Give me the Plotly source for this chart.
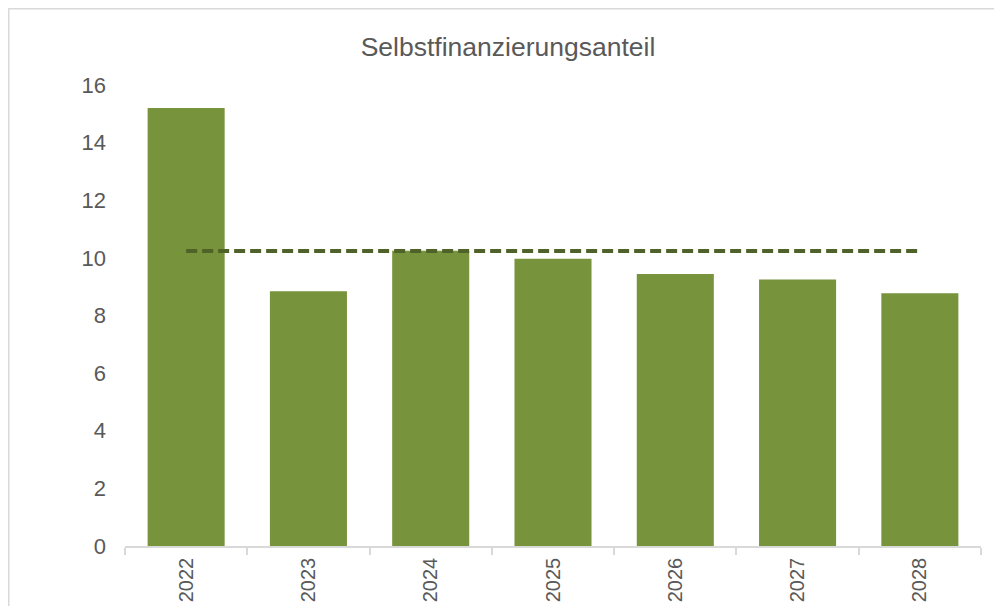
import plotly.graph_objects as go

years = ["2022", "2023", "2024", "2025", "2026", "2027", "2028"]
shares = [15.2, 8.84, 10.25, 9.97, 9.44, 9.25, 8.77]
average = [10.24] * len(years)
y_ticks = [0, 2, 4, 6, 8, 10, 12, 14, 16]

FONT = "Liberation Sans Narrow, Arial Narrow, Liberation Sans, Arial, sans-serif"
GREY_TXT = "#595959"
AXIS_GREY = "#d9d9d9"

fig = go.Figure()
fig.add_trace(go.Bar(x=years, y=shares, marker=dict(color="#77933C", line=dict(width=0)),
                     showlegend=False))
fig.add_trace(go.Scatter(x=years, y=average, mode="lines",
                         line=dict(color="#4F6228", width=4, dash="11px,5px"),
                         showlegend=False))

# the page body adds an 8px offset, margins compensate for it
W, H = 1002, 606
L, T = 117, 77
pw, ph = 856, 461
R, B = W - L - pw, H - T - ph

fig.update_layout(
    width=W, height=H,
    margin=dict(l=L, r=R, t=T, b=B, autoexpand=False),
    paper_bgcolor="white", plot_bgcolor="white",
    bargap=0.37,
    font=dict(family=FONT, color=GREY_TXT, size=22),
    title=dict(text="Selbstfinanzierungsanteil", x=0.499, xref="container", xanchor="center",
               y=1 - 39 / H, yref="container", yanchor="middle",
               font=dict(family=FONT, size=26.5, color=GREY_TXT)),
    xaxis=dict(type="category", showline=True, linecolor=AXIS_GREY, linewidth=1.5,
               ticks="outside", tickson="boundaries", ticklen=7, tickcolor=AXIS_GREY,
               tickwidth=1.5, tickangle=-90, showgrid=False, zeroline=False, automargin=False,
               tickfont=dict(family=FONT, size=20, color=GREY_TXT), ticklabelstandoff=2),
    yaxis=dict(range=[0, 16], tickvals=y_ticks, showgrid=False, zeroline=False,
               showline=False, ticks="", ticklabelstandoff=18, automargin=False,
               tickfont=dict(family=FONT, size=22, color=GREY_TXT)),
    shapes=[dict(type="rect", xref="paper", yref="paper",
                 x0=(0.75 - L) / pw, x1=(W + 20 - L) / pw,
                 y0=-(B + 20) / ph, y1=1 + (T - 0.75) / ph,
                 line=dict(color=AXIS_GREY, width=1.5), fillcolor="rgba(0,0,0,0)", layer="below")],
)

fig.write_html("out.html")
